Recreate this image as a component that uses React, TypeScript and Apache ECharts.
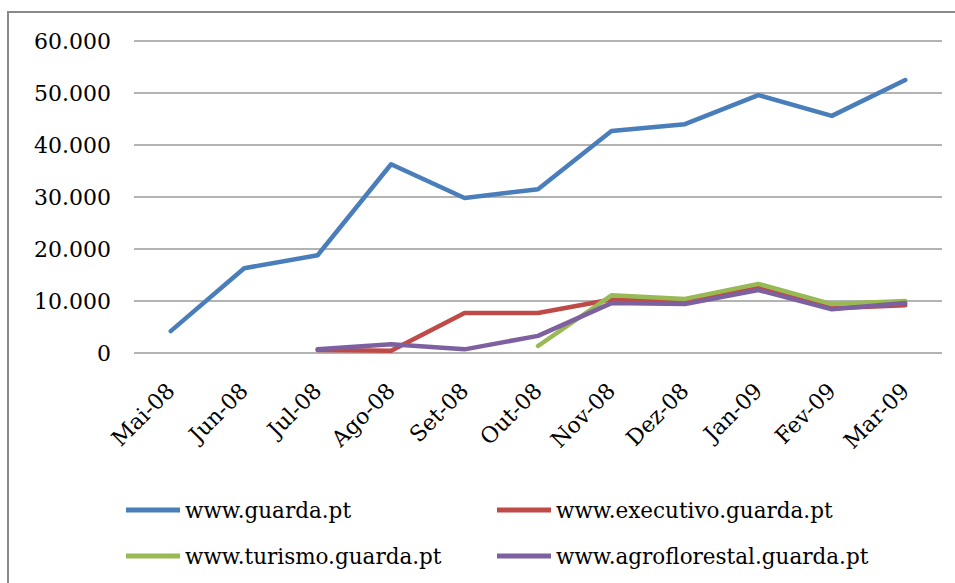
import React, { useEffect, useRef } from "react";
import * as echarts from "echarts";

const categories = ["Mai-08", "Jun-08", "Jul-08", "Ago-08", "Set-08", "Out-08", "Nov-08", "Dez-08", "Jan-09", "Fev-09", "Mar-09"];
const guarda = [4200, 16300, 18800, 36300, 29800, 31500, 42700, 44000, 49600, 45600, 52500];
const executivo = [null, null, 600, 450, 7700, 7700, 10300, 9800, 12500, 8600, 9200];
const turismo = [null, null, null, null, null, 1350, 11100, 10400, 13300, 9400, 10000];
const agroflorestal = [null, null, 700, 1700, 700, 3300, 9600, 9400, 12100, 8400, 9600];
const seriesNames = ["www.guarda.pt", "www.executivo.guarda.pt", "www.turismo.guarda.pt", "www.agroflorestal.guarda.pt"];
const colors = ["#4A7EBB", "#BE4B48", "#98B954", "#7D60A0"];

const FONT = "DejaVu Serif";

export default function App() {
  const ref = useRef<HTMLDivElement>(null);
  useEffect(() => {
    if (!ref.current) return;
    const chart = echarts.init(ref.current, null, { renderer: "svg" });
    const values = [guarda, executivo, turismo, agroflorestal];
    const legendCommon = {
      orient: "vertical" as const,
      icon: "rect",
      itemWidth: 54,
      itemHeight: 5,
      itemGap: 20,
      padding: 0,
      textStyle: { fontFamily: FONT, fontSize: 21.5, color: "#000", lineHeight: 26 },
    };
    chart.setOption({
      animation: false,
      backgroundColor: "#fff",
      color: colors,
      textStyle: { fontFamily: FONT },
      graphic: [
        {
          type: "rect",
          shape: { x: 8, y: 12, width: 1200, height: 1200 },
          style: { fill: "none", stroke: "#8a8a8a", lineWidth: 2 },
          silent: true,
        },
      ],
      grid: { left: 134, right: 13, top: 41, bottom: 230 },
      legend: [
        { ...legendCommon, left: 126, top: 497, data: [seriesNames[0], seriesNames[2]] },
        { ...legendCommon, left: 497, top: 497, data: [seriesNames[1], seriesNames[3]] },
      ],
      xAxis: {
        type: "category",
        data: categories,
        boundaryGap: true,
        axisLine: { show: false },
        axisTick: { show: false },
        axisLabel: {
          rotate: 45,
          margin: 34,
          fontFamily: FONT,
          fontSize: 22,
          color: "#000",
          interval: 0,
        },
      },
      yAxis: {
        type: "value",
        min: 0,
        max: 60000,
        interval: 10000,
        axisLine: { show: false },
        axisTick: { show: false },
        splitLine: { lineStyle: { color: "#9a9a9a", width: 1.5 } },
        axisLabel: {
          margin: 23,
          fontFamily: FONT,
          fontSize: 22,
          color: "#000",
          formatter: (v: number) => String(v).replace(/\B(?=(\d{3})+(?!\d))/g, "."),
        },
      },
      series: seriesNames.map((name, i) => ({
        name,
        type: "line",
        data: values[i],
        symbol: "none",
        showSymbol: false,
        lineStyle: { width: 4.5, color: colors[i], cap: "round", join: "round" },
        itemStyle: { color: colors[i] },
      })),
    });
    return () => chart.dispose();
  }, []);
  return (
    <div
      ref={ref}
      style={{ position: "absolute", left: 0, top: 0, width: 955, height: 583 }}
    />
  );
}
